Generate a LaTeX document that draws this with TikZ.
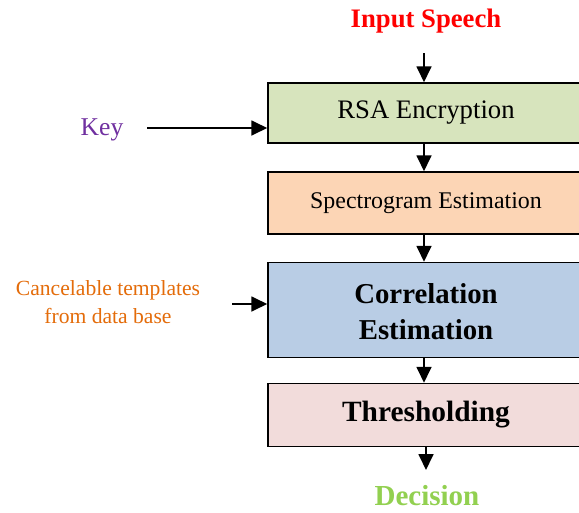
\documentclass[tikz,border=0pt]{standalone}
\usepackage{fontspec}
\setmainfont{Liberation Serif}
\usetikzlibrary{arrows.meta}
\definecolor{rsafill}{HTML}{D7E4BD}
\definecolor{specfill}{HTML}{FCD5B5}
\definecolor{corrfill}{HTML}{B9CDE5}
\definecolor{thrfill}{HTML}{F2DCDB}
\definecolor{keypurple}{HTML}{7030A0}
\definecolor{tplorange}{HTML}{E46C0A}
\definecolor{decgreen}{HTML}{92D050}
\tikzset{
  stage/.style={draw=black, line width=1.5pt, minimum width=316pt, inner sep=0pt, anchor=center},
  flow/.style={line width=1.8pt, -{Triangle[length=16pt,width=15pt]}},
  caption/.style={inner sep=0pt, anchor=center}
}
\begin{document}
\begin{tikzpicture}[x=1pt,y=-1pt]
  \useasboundingbox (0,0) rectangle (579,512);
  \fill[white] (0,0) rectangle (579,512);

  % processing chain
  \node[stage, fill=rsafill, minimum height=60pt,
        font=\fontsize{26.7}{30}\selectfont] (rsa) at (426,113) {RSA Encryption};
  \node[stage, fill=specfill, minimum height=62pt,
        font=\fontsize{23.9}{30}\selectfont] (spec) at (426,203) {Spectrogram Estimation};
  \node[stage, fill=corrfill, minimum height=95pt, align=center,
        font=\fontsize{28.8}{36}\selectfont\bfseries] (corr) at (426,310) {};
  \node[align=center, inner sep=0pt, font=\fontsize{28.8}{36}\selectfont\bfseries]
        (corrtext) at (426,312) {Correlation\\Estimation};
  \node[stage, fill=thrfill, minimum height=63pt,
        font=\fontsize{29.4}{34}\selectfont\bfseries] (thr) at (426,415) {Thresholding};

  % inputs and output labels
  \node[caption, text=red, font=\fontsize{26.7}{30}\selectfont\bfseries]
    (speech) at (426,21) {Input Speech};
  \node[caption, text=keypurple, font=\fontsize{25.6}{30}\selectfont]
    (key) at (102,130) {Key};
  \node[caption, text=tplorange, align=center, font=\fontsize{21.6}{28}\selectfont]
    (tpl) at (108,302) {Cancelable templates\\from data base};
  \node[caption, text=decgreen, font=\fontsize{29}{30}\selectfont\bfseries]
    (dec) at (427,496) {Decision};

  % free ends of the connectors
  \coordinate (speechend) at (424,53);
  \coordinate (keyend) at (147,128);
  \coordinate (tplend) at (232,304);
  \coordinate (decend) at (426,470);

  % connectors
  \draw[flow] (speechend) -- (speechend |- rsa.north);
  \draw[flow] (keyend) -- (rsa.west |- keyend);
  \draw[flow] (rsa.south -| speechend) -- (speechend |- spec.north);
  \draw[flow] (spec.south -| speechend) -- (speechend |- corr.north);
  \draw[flow] (tplend) -- (corr.west |- tplend);
  \draw[flow] (corr.south -| speechend) -- (speechend |- thr.north);
  \draw[flow] (thr.south -| decend) -- (decend);
\end{tikzpicture}
\end{document}
